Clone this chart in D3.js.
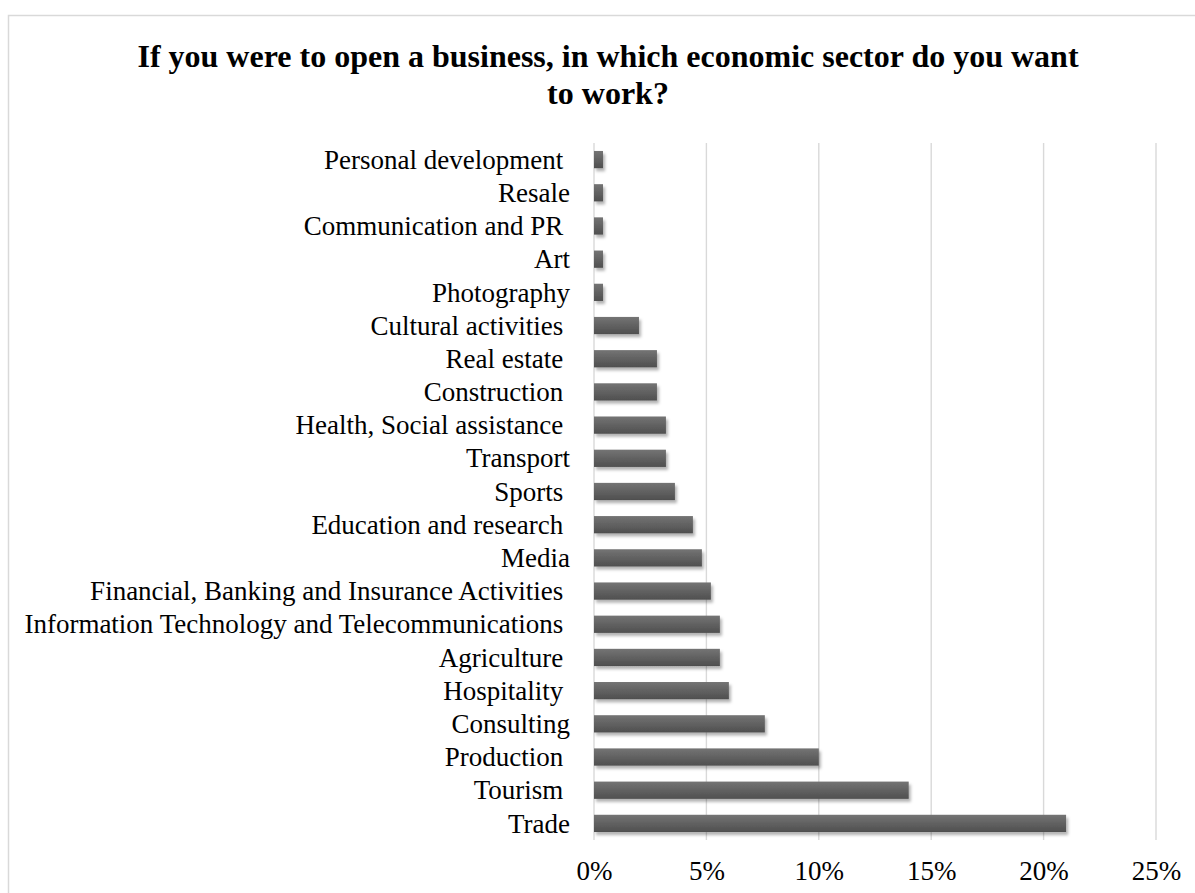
<!DOCTYPE html>
<html>
<head>
<meta charset="utf-8">
<script src="https://cdn.jsdelivr.net/npm/d3@7"></script>
<style>
  html, body { margin: 0; padding: 0; background: #fff; }
  svg { display: block; }
  text { font-family: "Liberation Serif", "Times New Roman", serif; fill: #000; }
</style>
</head>
<body>
<svg id="chart" width="1195" height="893"></svg>
<script>
// Sectors, listed top to bottom as drawn
const categories = [
  "Personal development ",
  "Resale",
  "Communication and PR ",
  "Art",
  "Photography",
  "Cultural activities ",
  "Real estate ",
  "Construction ",
  "Health, Social assistance ",
  "Transport",
  "Sports ",
  "Education and research ",
  "Media",
  "Financial, Banking and Insurance Activities ",
  "Information Technology and Telecommunications ",
  "Agriculture ",
  "Hospitality ",
  "Consulting",
  "Production ",
  "Tourism ",
  "Trade"
];

// Share of respondents (%) for each sector, same order
const shares = [
  0.4, 0.4, 0.4, 0.4, 0.4,
  2.0, 2.8, 2.8, 3.2, 3.2,
  3.6, 4.4, 4.8, 5.2, 5.6,
  5.6, 6.0, 7.6, 10.0, 14.0,
  21.0
];

const tickValues = [0, 5, 10, 15, 20, 25];
const titleLines = [
  "If you were to open a business, in which economic sector do you want",
  "to work?"
];

const data = categories.map((c, i) => ({ name: c, value: shares[i] }));

const svg = d3.select("#chart");

// drop shadow + vertical shading for the bars
const defs = svg.append("defs");
const grad = defs.append("linearGradient")
  .attr("id", "barShade").attr("x1", 0).attr("y1", 0).attr("x2", 0).attr("y2", 1);
grad.append("stop").attr("offset", "0%").attr("stop-color", "#747474");
grad.append("stop").attr("offset", "100%").attr("stop-color", "#4f4f4f");

const shadow = defs.append("filter").attr("id", "barShadow")
  .attr("x", "-5%").attr("y", "-30%").attr("width", "115%").attr("height", "190%");
shadow.append("feDropShadow")
  .attr("dx", 2).attr("dy", 3).attr("stdDeviation", 1.6)
  .attr("flood-color", "#000").attr("flood-opacity", 0.3);

// chart frame
svg.append("rect")
  .attr("x", 8.5).attr("y", 15.5)
  .attr("width", 1220).attr("height", 900)
  .attr("fill", "#fff").attr("stroke", "#d9d9d9").attr("stroke-width", 1.5);

// title
const title = svg.append("text")
  .attr("text-anchor", "middle")
  .style("font-weight", "bold")
  .style("font-size", "32px");
titleLines.forEach((t, i) => {
  title.append("tspan").attr("x", 608).attr("y", 67 + i * 37).text(t);
});

const x = d3.scaleLinear().domain([0, 25]).range([594, 1156]);
const y = d3.scaleBand()
  .domain(categories)
  .range([143, 840])
  .paddingInner(0.48)
  .paddingOuter(0.24);

// vertical gridlines
svg.append("g")
  .selectAll("line")
  .data(tickValues)
  .join("line")
  .attr("x1", d => x(d)).attr("x2", d => x(d))
  .attr("y1", 143).attr("y2", 840)
  .attr("stroke", "#d9d9d9").attr("stroke-width", 1.4);

// x axis labels
const xAxis = d3.axisBottom(x)
  .tickValues(tickValues)
  .tickFormat(d => d + "%")
  .tickSize(0)
  .tickPadding(0);
const gx = svg.append("g").attr("transform", "translate(0,861)").call(xAxis);
gx.select(".domain").remove();
gx.selectAll("text")
  .attr("dy", "0.71em")
  .style("font-size", "27px")
  .style("font-family", "'Liberation Serif', 'Times New Roman', serif")
  .attr("fill", "#000");

// y axis labels
const yAxis = d3.axisLeft(y).tickSize(0).tickPadding(0);
const gy = svg.append("g").attr("transform", "translate(570,0)").call(yAxis);
gy.select(".domain").remove();
gy.selectAll("text")
  .attr("dy", "0.34em")
  .attr("xml:space", "preserve")
  .style("white-space", "pre")
  .style("font-size", "27px")
  .style("font-family", "'Liberation Serif', 'Times New Roman', serif")
  .attr("fill", "#000");

// bars
svg.append("g")
  .attr("filter", "url(#barShadow)")
  .selectAll("rect")
  .data(data)
  .join("rect")
  .attr("x", x(0))
  .attr("y", d => y(d.name))
  .attr("width", d => x(d.value) - x(0))
  .attr("height", y.bandwidth())
  .attr("fill", "url(#barShade)");
</script>
</body>
</html>
